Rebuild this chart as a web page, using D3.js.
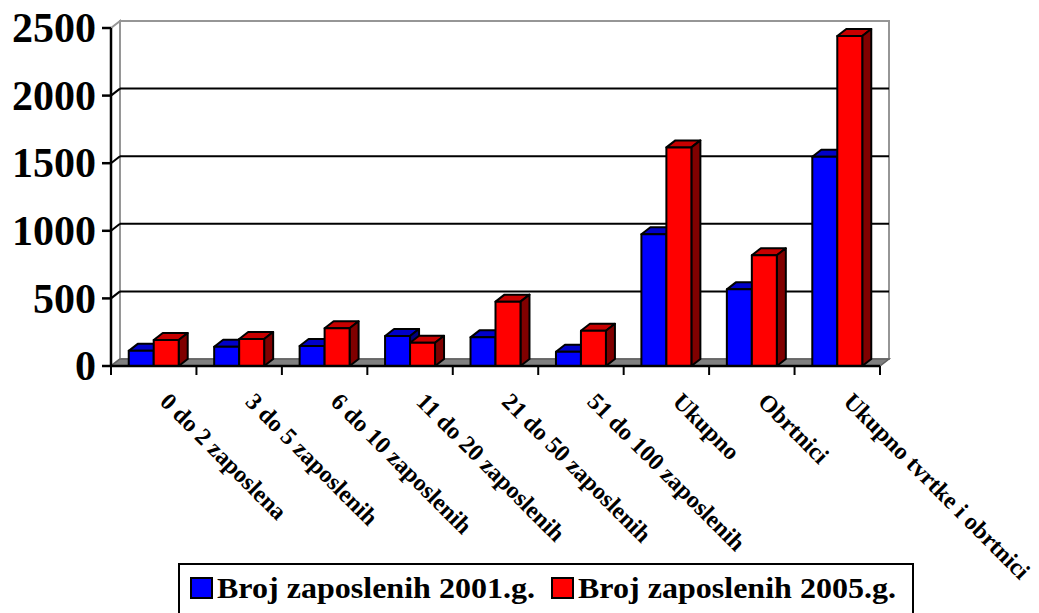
<!DOCTYPE html>
<html>
<head>
<meta charset="utf-8">
<script src="https://cdn.jsdelivr.net/npm/d3@7"></script>
<style>
  body { margin: 0; background: #fff; }
  text { font-family: "Liberation Serif", "Times New Roman", serif; font-weight: bold; }
</style>
</head>
<body>
<script>
// categories and values
var categories = ['0 do 2 zaposlena', '3 do 5 zaposlenih', '6 do 10 zaposlenih', '11 do 20 zaposlenih',
                  '21 do 50 zaposlenih', '51 do 100 zaposlenih', 'Ukupno', 'Obrtnici', 'Ukupno tvrtke i obrtnici'];
var series = ['Broj zaposlenih 2001.g.', 'Broj zaposlenih 2005.g.'];
var values2001 = [112, 143, 148, 222, 212, 106, 974, 567, 1548];
var values2005 = [192, 200, 279, 172, 476, 261, 1617, 819, 2441];
var yTicks = [0, 500, 1000, 1500, 2000, 2500];

var width = 1039,
    height = 613,
    dx = 9,    // depth offset
    dy = 7;

var faces = {
    '2001': { front: '#0000ff', top: '#0000c8', side: '#000080' },
    '2005': { front: '#ff0000', top: '#c80000', side: '#800000' }
};

var svg = d3.select('body').append('svg')
    .attr('width', width)
    .attr('height', height);

var x = d3.scaleBand().domain(categories).range([111, 880]);
var y = d3.scaleLinear().domain([0, 2500]).range([366, 28]);
var inner = d3.scaleBand().domain(['2001', '2005']).range([0, x.bandwidth()]).paddingOuter(0.71);

var x0 = x.range()[0], x1 = x.range()[1], y0 = y(0);

// back wall
svg.append('rect')
    .attr('x', x0 + dx).attr('y', y(2500) - dy)
    .attr('width', x1 - x0).attr('height', y0 - y(2500))
    .style('fill', '#fff').style('stroke', '#969696').style('stroke-width', 2);

// left wall
svg.append('path')
    .attr('d', 'M' + x0 + ',' + y(2500) + 'L' + (x0 + dx) + ',' + (y(2500) - dy) +
               'L' + (x0 + dx) + ',' + (y0 - dy) + 'L' + x0 + ',' + y0 + 'Z')
    .style('fill', '#fff').style('stroke', '#969696').style('stroke-width', 2);

// gridlines
yTicks.filter(function(d) { return d > 0 && d < 2500; }).forEach(function(d) {
    svg.append('line')
        .attr('x1', x0 + dx).attr('x2', x1 + dx)
        .attr('y1', y(d) - dy).attr('y2', y(d) - dy)
        .style('stroke', '#000').style('stroke-width', 2);
    svg.append('line')
        .attr('x1', x0).attr('x2', x0 + dx)
        .attr('y1', y(d)).attr('y2', y(d) - dy)
        .style('stroke', '#000').style('stroke-width', 2);
});

// floor
svg.append('path')
    .attr('d', 'M' + x0 + ',' + y0 + 'L' + x1 + ',' + y0 + 'L' + (x1 + dx) + ',' + (y0 - dy) +
               'L' + (x0 + dx) + ',' + (y0 - dy) + 'Z')
    .style('fill', '#808080').style('stroke', '#606060').style('stroke-width', 1.5);

// bars
var bars = [];
categories.forEach(function(c, i) {
    bars.push({ cat: c, key: '2001', value: values2001[i] });
    bars.push({ cat: c, key: '2005', value: values2005[i] });
});

var bar = svg.selectAll('.bar')
    .data(bars)
    .enter().append('g')
    .attr('class', 'bar');

bar.each(function(d) {
    var g = d3.select(this);
    var bx = x(d.cat) + inner(d.key),
        bw = inner.bandwidth(),
        by = y(d.value);
    var col = faces[d.key];
    g.append('path')
        .attr('d', 'M' + bx + ',' + by + 'L' + (bx + dx) + ',' + (by - dy) + 'L' + (bx + bw + dx) + ',' + (by - dy) +
                   'L' + (bx + bw) + ',' + by + 'Z')
        .style('fill', col.top);
    g.append('path')
        .attr('d', 'M' + (bx + bw) + ',' + by + 'L' + (bx + bw + dx) + ',' + (by - dy) +
                   'L' + (bx + bw + dx) + ',' + (y0 - dy) + 'L' + (bx + bw) + ',' + y0 + 'Z')
        .style('fill', col.side);
    g.append('rect')
        .attr('x', bx).attr('y', by)
        .attr('width', bw).attr('height', y0 - by)
        .style('fill', col.front);
    g.selectAll('path, rect')
        .style('stroke', '#000').style('stroke-width', 2).style('stroke-linejoin', 'round');
});

// y axis
svg.append('line')
    .attr('x1', x0).attr('x2', x0).attr('y1', y(2500)).attr('y2', y0)
    .style('stroke', '#000').style('stroke-width', 2.5);
yTicks.forEach(function(d) {
    svg.append('line')
        .attr('x1', x0 - 9).attr('x2', x0).attr('y1', y(d)).attr('y2', y(d))
        .style('stroke', '#000').style('stroke-width', 2.5);
    svg.append('text')
        .attr('x', 96).attr('y', y(d)).attr('dy', '0.34em')
        .attr('text-anchor', 'end')
        .style('font-size', '42px')
        .text(d);
});

// x axis
svg.append('line')
    .attr('x1', x0).attr('x2', x1).attr('y1', y0).attr('y2', y0)
    .style('stroke', '#000').style('stroke-width', 2.5);
d3.range(categories.length + 1).forEach(function(i) {
    var tx = x0 + i * x.step();
    svg.append('line')
        .attr('x1', tx).attr('x2', tx).attr('y1', y0).attr('y2', y0 + 9)
        .style('stroke', '#000').style('stroke-width', 2);
});
categories.forEach(function(c) {
    var lx = x(c) + x.bandwidth() / 2 + 5;
    svg.append('text')
        .attr('transform', 'translate(' + lx + ',403) rotate(45)')
        .style('font-size', '24px')
        .text(c);
});

// legend
var legend = svg.append('g');
legend.append('rect')
    .attr('x', 179).attr('y', 564).attr('width', 734).attr('height', 70)
    .style('fill', '#fff').style('stroke', '#000').style('stroke-width', 2);
var lx = 191;
series.forEach(function(s, i) {
    var key = i === 0 ? '2001' : '2005';
    legend.append('rect')
        .attr('x', lx).attr('y', 578).attr('width', 21).attr('height', 20)
        .style('fill', faces[key].front).style('stroke', '#000').style('stroke-width', 2);
    legend.append('text')
        .attr('x', lx + 26).attr('y', 598)
        .attr('textLength', 318).attr('lengthAdjust', 'spacingAndGlyphs')
        .style('font-size', '30px')
        .text(s);
    lx = lx + 26 + 318 + 17;
});
</script>
</body>
</html>
